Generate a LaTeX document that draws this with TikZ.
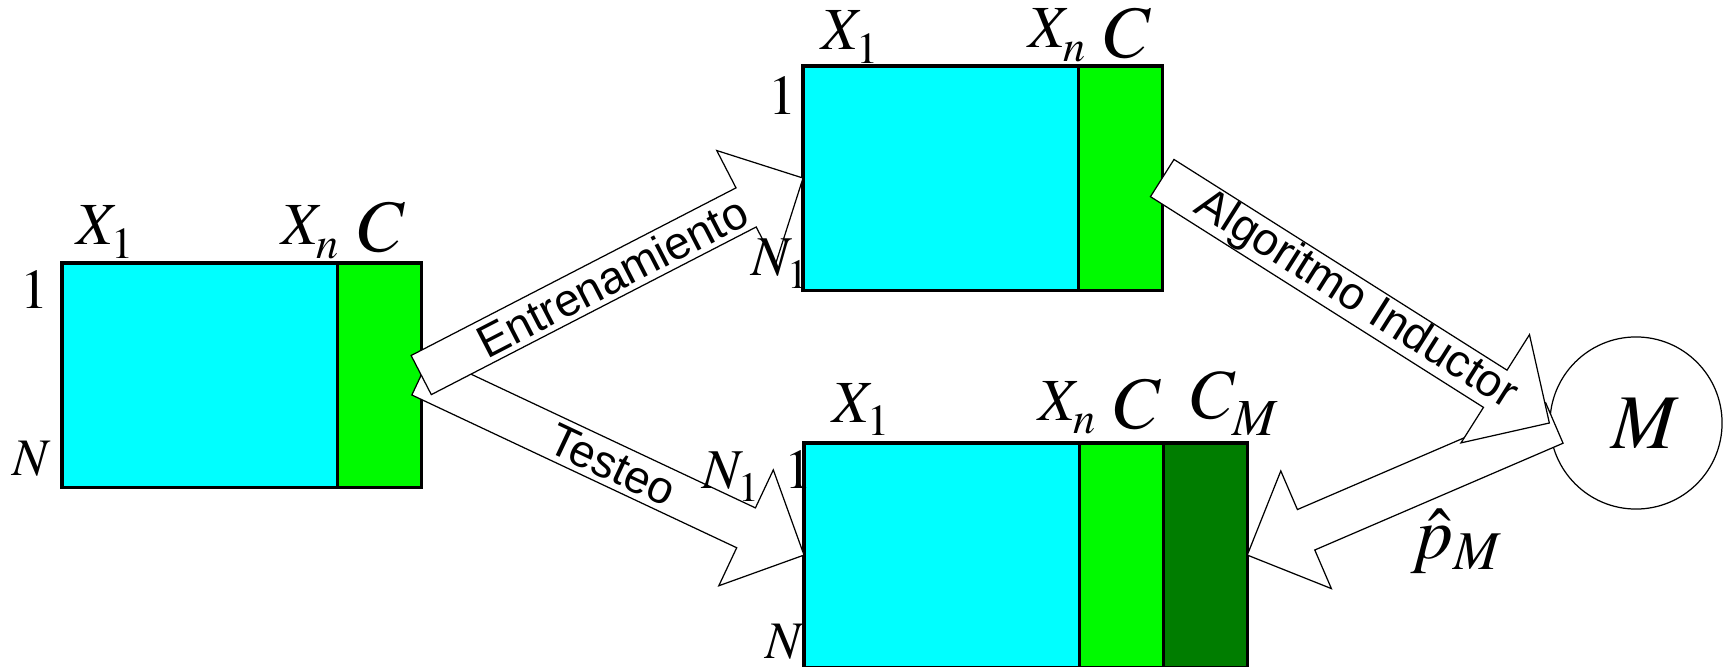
\documentclass[tikz,border=0pt]{standalone}
\usepackage{mathptmx}
\usepackage{fontspec}
\newfontfamily\arrowfont{Liberation Sans}
\usetikzlibrary{calc,positioning}
\definecolor{attrCyan}{RGB}{0,255,255}
\definecolor{classGreen}{RGB}{0,250,0}
\definecolor{predGreen}{RGB}{0,125,0}

% subscript set a little lower, as in the original slide
\newcommand{\dn}[2][1.4pt]{_{\lower#1\hbox{$\scriptstyle #2$}}}

\tikzset{
  attrbox/.style={draw=black, line width=0.9pt, fill=attrCyan, minimum width=2.75cm,
    minimum height=2.24cm, inner sep=0pt, outer sep=0pt},
  classbox/.style={attrbox, fill=classGreen, minimum width=0.84cm},
  predbox/.style={attrbox, fill=predGreen, minimum width=0.84cm},
  colname/.style={inner sep=0pt, anchor=base west, font=\fontsize{17}{20}\selectfont},
  classname/.style={colname, font=\fontsize{21}{24}\selectfont},
  rowname/.style={colname, font=\fontsize{16}{19}\selectfont},
  rowlast/.style={colname, font=\fontsize{15}{18}\selectfont},
  bigarrow/.style={draw=black, line width=0.35pt, fill=white},
  arrowtext/.style={sloped, inner sep=0pt, font=\arrowfont\fontsize{13}{15}\selectfont},
}

% block arrow: tail, tip, text
\newcommand{\blockarrow}[3]{%
  \coordinate (hb) at ($(#2)!0.64cm!(#1)$);
  \draw[bigarrow] ($(#1)!0.22cm!90:(#2)$) -- ($(hb)!0.22cm!-90:(#1)$)
    -- ($(hb)!0.64cm!-90:(#1)$) -- (#2) -- ($(hb)!0.64cm!90:(#1)$)
    -- ($(hb)!0.22cm!90:(#1)$) -- ($(#1)!0.22cm!-90:(#2)$) -- cycle;
  \path (#1) -- (#2) node[arrowtext, pos=0.5] {#3};
}

\begin{document}
\begin{tikzpicture}[x=0.01cm, y=-0.01cm]
  \useasboundingbox (0,0) rectangle (1728,667);

  % full data set
  \node[attrbox, anchor=north west] (lftx) at (62,263) {};
  \node[classbox, right=0pt of lftx] (lftc) {};
  % training set
  \node[attrbox, anchor=north west] (topx) at (803,66) {};
  \node[classbox, right=0pt of topx] (topc) {};
  % test set with predictions
  \node[attrbox, anchor=north west] (botx) at (804,443) {};
  \node[classbox, right=0pt of botx] (botc) {};
  \node[predbox, right=0pt of botc] (botp) {};
  % model
  \node[circle, draw=black, line width=0.35pt, minimum size=1.72cm, inner sep=0pt] (model) at (1636,423) {};

  % arrows
  \coordinate (mtail) at ($(model.west)+(5,0)$);
  \blockarrow{mtail}{botp.east}{}
  \blockarrow{topc.east}{model.west}{Algoritmo Inductor}
  \blockarrow{lftc.east}{botx.west}{Testeo}
  \blockarrow{lftc.east}{topx.west}{Entrenamiento}

  \node[font=\fontsize{22}{26}\selectfont, inner sep=0pt] (mname) at ($(model.center)+(9,0)$) {$M$};

  % labels of the full data set
  \node[colname] (lx1) at (76,245) {$X\dn{1}$};
  \node[colname] (lxn) at (281,245) {$X\dn{n}$};
  \node[classname] (lcl) at (357,251) {$C$};
  \node[rowname] (lr1) at (20,308) {$1$};
  \node[rowlast] (lrn) at (12,475) {$N$};
  % labels of the training set
  \node[colname] (tx1) at (821,50) {$X\dn{1}$};
  \node[colname] (txn) at (1028,48) {$X\dn{n}$};
  \node[classname] (tcl) at (1103,58) {$C$};
  \node[rowname] (tr1) at (768,115) {$1$};
  \node[rowname] (trn) at (751,275) {$N\dn{1}$};
  % labels of the test set
  \node[colname] (bx1) at (832,422) {$X\dn{1}$};
  \node[colname] (bxn) at (1038,420) {$X\dn{n}$};
  \node[classname] (bcl) at (1113,428) {$C$};
  \node[colname, font=\fontsize{20}{24}\selectfont] (bcm) at (1190,418) {$C\dn[2pt]{M}$};
  \node[rowname] (br1) at (784,488) {$1$};
  \node[rowname] (brn1) at (702,488) {$N\dn{1}$};
  \node[rowlast] (brn) at (765,658) {$N$};
  % estimated probabilities
  \node[classname] (phat) at (1410,558) {$\hat{p}_M$};
\end{tikzpicture}
\end{document}
